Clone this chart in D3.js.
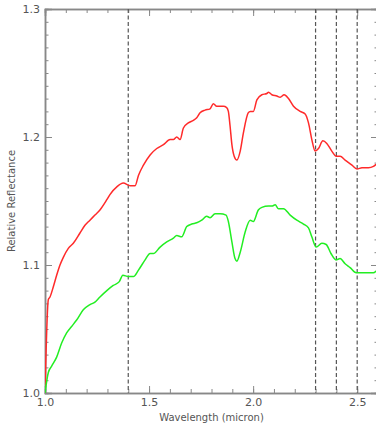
<!DOCTYPE html>
<html>
<head>
<meta charset="utf-8">
<script src="https://cdn.jsdelivr.net/npm/d3@7"></script>
<style>
  body { margin: 0; background: #fff; }
  text { font-family: "DejaVu Sans", Arial, sans-serif; fill: #555; }
</style>
</head>
<body>
<div id="chart"></div>
<script>
const margin = {top: 9, right: -2, bottom: 30, left: 45},
    W = 376, H = 423,
    width = W - margin.left - margin.right,
    height = H - margin.top - margin.bottom;

// red spectrum (upper)
const redWave = [1.000, 1.016, 1.024, 1.040, 1.056, 1.072, 1.088, 1.112, 1.136, 1.168, 1.192, 1.216, 1.240, 1.264, 1.297, 1.312, 1.345, 1.376, 1.409, 1.433, 1.449, 1.473, 1.505, 1.537, 1.569, 1.601, 1.617, 1.633, 1.649, 1.665, 1.689, 1.713, 1.729, 1.745, 1.769, 1.793, 1.809, 1.825, 1.857, 1.873, 1.881, 1.889, 1.898, 1.909, 1.922, 1.938, 1.953, 1.977, 1.986, 2.001, 2.018, 2.042, 2.066, 2.074, 2.090, 2.114, 2.130, 2.149, 2.170, 2.194, 2.226, 2.250, 2.266, 2.282, 2.298, 2.314, 2.335, 2.354, 2.378, 2.399, 2.418, 2.442, 2.475, 2.499, 2.523, 2.554, 2.578, 2.601];
const redRefl = [1.000, 1.073, 1.075, 1.083, 1.092, 1.100, 1.106, 1.113, 1.117, 1.125, 1.131, 1.135, 1.139, 1.143, 1.151, 1.155, 1.161, 1.164, 1.162, 1.162, 1.170, 1.178, 1.186, 1.191, 1.194, 1.198, 1.198, 1.200, 1.198, 1.207, 1.211, 1.213, 1.215, 1.219, 1.221, 1.222, 1.226, 1.224, 1.224, 1.223, 1.220, 1.209, 1.194, 1.185, 1.182, 1.189, 1.203, 1.219, 1.220, 1.220, 1.229, 1.233, 1.234, 1.235, 1.233, 1.232, 1.231, 1.233, 1.230, 1.224, 1.220, 1.218, 1.211, 1.198, 1.189, 1.191, 1.197, 1.195, 1.189, 1.185, 1.185, 1.182, 1.178, 1.175, 1.176, 1.176, 1.177, 1.180];

// green spectrum (lower)
const greenWave = [1.000, 1.016, 1.032, 1.056, 1.080, 1.104, 1.128, 1.152, 1.184, 1.216, 1.240, 1.264, 1.297, 1.328, 1.357, 1.374, 1.400, 1.425, 1.449, 1.481, 1.505, 1.521, 1.553, 1.585, 1.617, 1.633, 1.657, 1.681, 1.705, 1.729, 1.753, 1.777, 1.793, 1.817, 1.841, 1.870, 1.881, 1.898, 1.913, 1.922, 1.938, 1.962, 1.986, 2.001, 2.025, 2.042, 2.074, 2.090, 2.106, 2.122, 2.146, 2.178, 2.210, 2.242, 2.266, 2.282, 2.303, 2.330, 2.351, 2.374, 2.398, 2.418, 2.442, 2.466, 2.495, 2.523, 2.554, 2.578, 2.601];
const greenRefl = [1.000, 1.016, 1.021, 1.028, 1.039, 1.047, 1.052, 1.057, 1.065, 1.069, 1.071, 1.075, 1.080, 1.084, 1.087, 1.092, 1.091, 1.091, 1.096, 1.104, 1.109, 1.109, 1.114, 1.118, 1.121, 1.123, 1.122, 1.130, 1.132, 1.133, 1.135, 1.138, 1.137, 1.140, 1.140, 1.139, 1.134, 1.118, 1.105, 1.103, 1.110, 1.126, 1.135, 1.134, 1.143, 1.145, 1.146, 1.146, 1.147, 1.144, 1.144, 1.139, 1.135, 1.132, 1.129, 1.122, 1.114, 1.117, 1.116, 1.109, 1.104, 1.105, 1.101, 1.098, 1.094, 1.094, 1.094, 1.094, 1.097];

const markers = [1.4, 2.3, 2.4, 2.5];
const xTicks = [1.0, 1.5, 2.0, 2.5];
const yTicks = [1.0, 1.1, 1.2, 1.3];

const svg = d3.select("#chart")
  .append("svg")
    .attr("width", W)
    .attr("height", H);

const g = svg.append("g")
    .attr("transform", "translate(" + margin.left + "," + margin.top + ")");

const x = d3.scaleLinear().domain([1.0, 2.6]).range([0, width]);
const y = d3.scaleLinear().domain([1.0, 1.3]).range([height, 0]);

g.append("clipPath").attr("id", "clip")
  .append("rect").attr("width", width).attr("height", height);

// frame + ticks, IDL style (ticks point inward)
const axisCol = "#888";
function styleAxis(sel) {
  sel.select(".domain").attr("stroke", axisCol).attr("stroke-width", 1.5);
  sel.selectAll(".tick line").attr("stroke", axisCol).attr("stroke-width", 1);
  sel.selectAll(".tick text").style("font-size", "11px").attr("fill", "#555");
}

const xMinor = d3.range(10, 27).map(d => d / 10);
const yMinor = d3.range(100, 131).map(d => d / 100);

// bottom
g.append("g").attr("transform", "translate(0," + height + ")")
  .call(d3.axisBottom(x).tickValues(xMinor).tickSize(-4).tickFormat(""))
  .call(styleAxis);
g.append("g").attr("transform", "translate(0," + height + ")")
  .call(d3.axisBottom(x).tickValues(xTicks).tickSize(-7).tickPadding(5).tickFormat(d3.format(".1f")))
  .call(styleAxis);
// top
g.append("g")
  .call(d3.axisTop(x).tickValues(xMinor).tickSize(-4).tickFormat(""))
  .call(styleAxis);
g.append("g")
  .call(d3.axisTop(x).tickValues(xTicks).tickSize(-7).tickFormat(""))
  .call(styleAxis);
// left
g.append("g")
  .call(d3.axisLeft(y).tickValues(yMinor).tickSize(-3.5).tickFormat(""))
  .call(styleAxis);
g.append("g")
  .call(d3.axisLeft(y).tickValues(yTicks).tickSize(-7).tickPadding(5).tickFormat(d3.format(".1f")))
  .call(styleAxis);
// right
g.append("g").attr("transform", "translate(" + width + ",0)")
  .call(d3.axisRight(y).tickValues(yMinor).tickSize(-3.5).tickFormat(""))
  .call(styleAxis);
g.append("g").attr("transform", "translate(" + width + ",0)")
  .call(d3.axisRight(y).tickValues(yTicks).tickSize(-7).tickFormat(""))
  .call(styleAxis);

// dashed marker lines
g.append("g")
  .selectAll("line")
  .data(markers)
  .enter()
  .append("line")
    .attr("x1", d => x(d)).attr("x2", d => x(d))
    .attr("y1", 0).attr("y2", height)
    .attr("stroke", "#555")
    .attr("stroke-width", 1.2)
    .attr("stroke-dasharray", "4,2.5");

const line = d3.line()
  .x(d => x(d[0]))
  .y(d => y(d[1]))
  .curve(d3.curveMonotoneX);

const series = [
  {pts: d3.zip(redWave, redRefl), col: "#ff2a2a"},
  {pts: d3.zip(greenWave, greenRefl), col: "#22ee22"}
];

g.append("g").attr("clip-path", "url(#clip)")
  .selectAll("path")
  .data(series)
  .enter()
  .append("path")
    .attr("d", d => line(d.pts))
    .attr("fill", "none")
    .attr("stroke", d => d.col)
    .attr("stroke-width", 1.5);

// axis titles
svg.append("text")
  .attr("x", margin.left + width / 2)
  .attr("y", 421)
  .attr("text-anchor", "middle")
  .style("font-size", "10px")
  .text("Wavelength (micron)");

svg.append("text")
  .attr("transform", "translate(15," + (margin.top + height / 2) + ") rotate(-90)")
  .attr("text-anchor", "middle")
  .style("font-size", "10px")
  .text("Relative Reflectance");
</script>
</body>
</html>
